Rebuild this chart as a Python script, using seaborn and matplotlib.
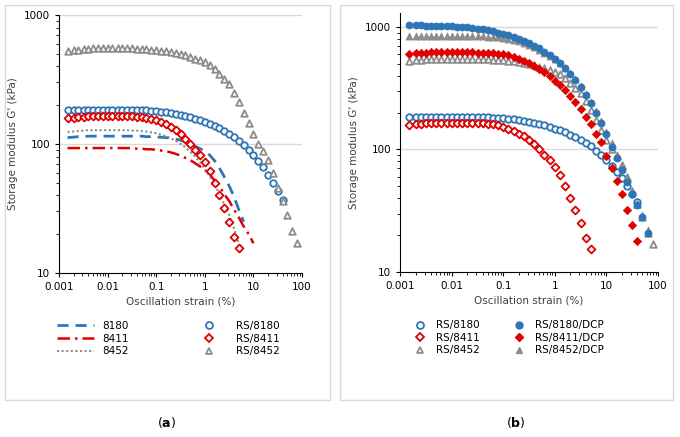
import matplotlib
matplotlib.use("Agg")
import matplotlib.pyplot as plt
import matplotlib.ticker as mticker
import seaborn as sns
import pandas as pd
from matplotlib.patches import Rectangle
from matplotlib.lines import Line2D

strain = [0.0015,0.002,0.0025,0.0032,0.004,0.005,0.0063,0.008,0.01,0.0126,0.016,0.02,0.025,0.032,0.04,0.05,0.063,0.08,0.1,
          0.126,0.16,0.2,0.25,0.32,0.4,0.5,0.63,0.8,1,1.26,1.6,2,2.5,3.2,4,5,6.3,8,10,12.6,16,20,25,32,40,50,63,80]

rs8452 = [530,535,540,545,548,550,550,550,550, 550,550,550,550,550,548,545,542,538,535,
          530,525,518,510,500,488,475,460,445,430, 410,380,350,320,290,250,210,175,145,120,
          100,88,75,60,46,36,28,21,17]
rs8180 = [183,185,185,185,185,185,185,185,185, 185,185,185,185,184,184,183,182,181,180,
          178,176,174,171,168,165,161,157,153,148, 143,138,132,126,120,113,106,98,90,82,
          74,66,58,50,43,37]
rs8411 = [158,160,162,163,164,165,165,165,165, 165,165,165,165,164,163,162,160,157,153,
          148,142,135,128,120,110,100,90,82,72, 62,50,40,32,25,19,15.5]
l8180 = [112,113,114,114,115,115,115,115,115, 115,115,115,115,115,115,115,114,114,113,
         113,112,111,109,107,104,100,96,92,88, 82,74,65,56,47,39,31,25]
l8411 = [93,93,93,93,93,93,93,93,93, 93,93,93,93,93,92,92,91,91,90,
         89,88,86,84,81,78,75,71,67,63, 58,52,47,41,36,31,27,23,20,17]
l8452 = [124,125,126,127,128,128,128,128,128, 128,128,128,128,127,127,126,125,123,121,
         118,115,111,106,100,94,87,80,72,64, 56,48,41,34,28,22,17]
dcp8180 = [1030,1030,1030,1025,1025,1020,1020,1015,1010, 1005,1000,990,980,970,955,940,920,900,880,
           855,830,800,770,740,705,670,630,590,550, 505,460,415,370,325,280,240,200,165,135,
           105,85,68,54,43,35,28,21]
dcp8452 = [840,845,850,850,850,850,850,850,850, 850,850,848,845,842,838,833,828,822,815,
           805,790,770,745,715,685,650,615,580,545, 505,465,420,375,330,285,245,205,170,140,
           112,90,72,58,45,36,29,22]
dcp8411 = [605,610,615,618,620,620,622,622,622, 622,622,620,620,618,615,612,608,603,597,
           585,570,550,530,505,480,455,425,395,365, 335,305,275,245,215,185,160,135,115,88,
           70,55,43,32,24,18]

BLUE, RED, GREY = "#2E75B6", "#E00000", "#8C8C8C"

def df(vals):
    return pd.DataFrame({"x": strain[:len(vals)], "y": vals})

fig = plt.figure(figsize=(6.8, 4.37), dpi=100)

fig.patches.append(Rectangle((5/680, 1-400/437), 325/680, 395/437, transform=fig.transFigure,
                             fill=False, edgecolor="#D9D9D9", lw=1))
fig.patches.append(Rectangle((340/680, 1-400/437), 333/680, 395/437, transform=fig.transFigure,
                             fill=False, edgecolor="#D9D9D9", lw=1))

fmt = mticker.FuncFormatter(lambda v, p: ("%g" % v))

def style(ax, top):
    ax.set_xscale("log"); ax.set_yscale("log")
    ax.set_xlim(0.001, 100); ax.set_ylim(10, top)
    ax.xaxis.set_major_locator(mticker.FixedLocator([0.001, 0.01, 0.1, 1, 10, 100]))
    ax.yaxis.set_major_locator(mticker.FixedLocator([10, 100, 1000]))
    ax.xaxis.set_major_formatter(fmt); ax.yaxis.set_major_formatter(fmt)
    ax.xaxis.set_minor_locator(mticker.LogLocator(subs=range(2, 10)))
    ax.yaxis.set_minor_locator(mticker.LogLocator(subs=range(2, 10)))
    ax.xaxis.set_minor_formatter(mticker.NullFormatter())
    ax.yaxis.set_minor_formatter(mticker.NullFormatter())
    for y in (100, 1000):
        ax.axhline(y, color="#D9D9D9", lw=1, zorder=0)
    for s in ("top", "right"):
        ax.spines[s].set_visible(False)
    ax.tick_params(labelsize=7.5, length=3)
    ax.tick_params(which="minor", length=2)
    ax.set_xlabel("Oscillation strain (%)", fontsize=7.5, color="#404040", labelpad=3)
    ax.set_ylabel("Storage modulus G' (kPa)", fontsize=7.5, color="#404040")

def openm(ax, vals, m, c, s=22):
    sns.scatterplot(data=df(vals), x="x", y="y", ax=ax, marker=m, s=s, facecolor="white",
                    edgecolor=c, linewidth=1.3, zorder=3)

def filledm(ax, vals, m, c, s=26):
    sns.scatterplot(data=df(vals), x="x", y="y", ax=ax, marker=m, s=s, color=c,
                    edgecolor=c, linewidth=0.5, zorder=3)

axa = fig.add_axes([59/680, 1-273/437, 243/680, 258/437])
sns.lineplot(data=df(l8180), x="x", y="y", ax=axa, color=BLUE, lw=2, zorder=2)
axa.lines[-1].set_dashes((4, 2.5))
sns.lineplot(data=df(l8411), x="x", y="y", ax=axa, color=RED, lw=1.8, zorder=2)
axa.lines[-1].set_dashes((5, 2, 1, 2))
sns.lineplot(data=df(l8452), x="x", y="y", ax=axa, color=GREY, lw=1.5, zorder=2)
axa.lines[-1].set_dashes((1, 1.2))
openm(axa, rs8180, "o", BLUE)
openm(axa, rs8411, "D", RED, 16)
openm(axa, rs8452, "^", GREY)
style(axa, 1000)

h = [Line2D([], [], color=BLUE, lw=2, dashes=(4, 2.5)),
     Line2D([], [], color=RED, lw=1.8, dashes=(5, 2, 1, 2)),
     Line2D([], [], color=GREY, lw=1.5, dashes=(1, 1.2)),
     Line2D([], [], ls="", marker="o", mfc="white", mec=BLUE, mew=1.3, ms=5),
     Line2D([], [], ls="", marker="D", mfc="white", mec=RED, mew=1.3, ms=4),
     Line2D([], [], ls="", marker="^", mfc="white", mec=GREY, mew=1.3, ms=5)]
axa.legend(h, ["8180", "8411", "8452", "RS/8180", "RS/8411", "RS/8452"], ncol=2, frameon=False,
           loc="upper center", bbox_to_anchor=(0.45, -0.15), fontsize=7.5, columnspacing=6,
           handlelength=3.5, labelspacing=0.25)

axb = fig.add_axes([400/680, 1-272/437, 258/680, 259/437])
openm(axb, rs8180, "o", BLUE)
openm(axb, rs8411, "D", RED, 16)
openm(axb, rs8452, "^", GREY)
filledm(axb, dcp8452, "^", GREY)
filledm(axb, dcp8411, "D", RED, 18)
filledm(axb, dcp8180, "o", BLUE)
style(axb, 1300)

hb = [Line2D([], [], ls="", marker="o", mfc="white", mec=BLUE, mew=1.3, ms=5),
      Line2D([], [], ls="", marker="D", mfc="white", mec=RED, mew=1.3, ms=4),
      Line2D([], [], ls="", marker="^", mfc="white", mec=GREY, mew=1.3, ms=5),
      Line2D([], [], ls="", marker="o", color=BLUE, ms=5),
      Line2D([], [], ls="", marker="D", color=RED, ms=4),
      Line2D([], [], ls="", marker="^", color=GREY, ms=5)]
axb.legend(hb, ["RS/8180", "RS/8411", "RS/8452", "RS/8180/DCP", "RS/8411/DCP", "RS/8452/DCP"],
           ncol=2, frameon=False, loc="upper center", bbox_to_anchor=(0.42, -0.15), fontsize=7.5,
           columnspacing=3, handlelength=1.5, labelspacing=0.25)

fig.text(167/680, 1-422/437, r"($\mathbf{a}$)", ha="center", va="center", fontsize=9)
fig.text(516/680, 1-422/437, r"($\mathbf{b}$)", ha="center", va="center", fontsize=9)

fig.savefig("out.png", dpi=100)
